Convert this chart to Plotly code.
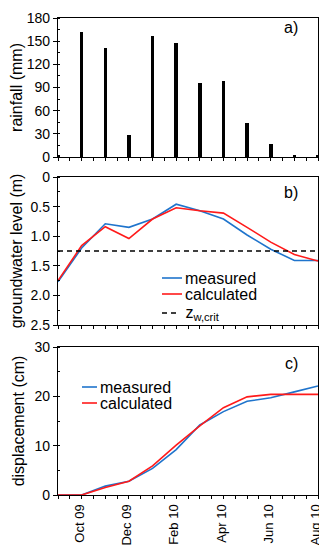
import plotly.graph_objects as go

# month index: 0 = Sep 09 ... 11 = Aug 10
months = [0, 1, 2, 3, 4, 5, 6, 7, 8, 9, 10, 11]
rain_mm = [2, 162, 141, 29, 157, 147, 96, 98, 44, 17, 2, 2]
gw_measured = [1.77, 1.20, 0.79, 0.85, 0.71, 0.46, 0.57, 0.71, 0.98, 1.22, 1.41, 1.41]
gw_calculated = [1.75, 1.16, 0.84, 1.04, 0.71, 0.52, 0.57, 0.61, 0.85, 1.10, 1.31, 1.42]
z_crit = 1.25
disp_measured = [0, 0, 1.8, 2.8, 5.4, 9.2, 14.2, 16.9, 19.0, 19.7, 20.9, 22.1]
disp_calculated = [0, 0, 1.5, 2.8, 5.9, 10.1, 14.0, 17.7, 19.9, 20.4, 20.4, 20.4]
tick_pos = [1, 3, 5, 7, 9, 11]
tick_labels = ["Oct 09", "Dec 09", "Feb 10", "Apr 10", "Jun 10", "Aug 10"]

BLUE = "#1f74cc"
RED = "#ff1a1a"
FONT = "Liberation Sans, Arial, sans-serif"

fig = go.Figure()

fig.add_trace(go.Bar(x=months, y=rain_mm, marker=dict(color="black", line_width=0),
                     width=0.15, xaxis="x", yaxis="y", showlegend=False))

fig.add_trace(go.Scatter(x=months, y=gw_measured, mode="lines", name="measured",
                         line=dict(color=BLUE, width=1.6), xaxis="x2", yaxis="y2"))
fig.add_trace(go.Scatter(x=months, y=gw_calculated, mode="lines", name="calculated",
                         line=dict(color=RED, width=1.6), xaxis="x2", yaxis="y2"))
fig.add_trace(go.Scatter(x=[months[0], months[-1]], y=[z_crit, z_crit], mode="lines",
                         name="z<sub>w,crit</sub>",
                         line=dict(color="black", width=1.4, dash="5px,4px"), xaxis="x2", yaxis="y2"))

fig.add_trace(go.Scatter(x=months, y=disp_measured, mode="lines", name="measured",
                         line=dict(color=BLUE, width=1.6), xaxis="x3", yaxis="y3"))
fig.add_trace(go.Scatter(x=months, y=disp_calculated, mode="lines", name="calculated",
                         line=dict(color=RED, width=1.6), xaxis="x3", yaxis="y3"))

xcommon = dict(range=[0, 11], showline=True, linecolor="black", linewidth=1.3, mirror=True,
               ticks="outside", ticklen=3, tickcolor="black", tickmode="array", tickvals=tick_pos,
               minor=dict(ticks="outside", ticklen=3, dtick=0.5, tick0=0, tickcolor="black"),
               showgrid=False, zeroline=False, tickfont=dict(size=13, color="black", family=FONT))
ycommon = dict(showline=True, linecolor="black", linewidth=1.3, mirror=True,
               ticks="outside", ticklen=4, tickcolor="black", showgrid=False, zeroline=False,
               tickfont=dict(size=14, color="black", family=FONT),
               title_font=dict(size=16, color="black", family=FONT))

fs = dict(size=16, color="black", family=FONT)

# the page body adds an 8px offset; positions below are in the visible picture's pixels
PLOT_TOP, PLOT_BOTTOM, PLOT_LEFT, PLOT_RIGHT = 18, 495, 58, 318


def px_x(px):
    return (px - PLOT_LEFT) / float(PLOT_RIGHT - PLOT_LEFT)


def px_y(py):
    return (PLOT_BOTTOM - py) / float(PLOT_BOTTOM - PLOT_TOP)


annotations = [
    dict(text="a)", x=px_x(291), y=px_y(27), xref="paper", yref="paper", showarrow=False,
         font=fs, xanchor="center", yanchor="middle"),
    dict(text="b)", x=px_x(291), y=px_y(193), xref="paper", yref="paper", showarrow=False,
         font=fs, xanchor="center", yanchor="middle"),
    dict(text="c)", x=px_x(291), y=px_y(363), xref="paper", yref="paper", showarrow=False,
         font=fs, xanchor="center", yanchor="middle"),
]
shapes = []


def legend_item(x0, x1, ty, text, color, dash="solid"):
    shapes.append(dict(type="line", xref="paper", yref="paper", x0=px_x(x0), x1=px_x(x1),
                       y0=px_y(ty), y1=px_y(ty), line=dict(color=color, width=1.6, dash=dash)))
    annotations.append(dict(text=text, x=px_x(x1 + 1), y=px_y(ty), xref="paper", yref="paper",
                            showarrow=False, font=fs, xanchor="left", yanchor="middle"))


legend_item(162, 182, 278, "measured", BLUE)
legend_item(162, 182, 294, "calculated", RED)
legend_item(162, 178, 313, " z<sub>w,crit</sub>", "black", "5px,4px")
legend_item(82, 97, 387, "measured", BLUE)
legend_item(82, 97, 403, "calculated", RED)

fig.update_layout(
    width=327, height=550,
    margin=dict(l=PLOT_LEFT - 8, r=327 - (PLOT_RIGHT - 8), t=PLOT_TOP - 8, b=550 - (PLOT_BOTTOM - 8),
                autoexpand=False),
    plot_bgcolor="white", paper_bgcolor="white",
    font=dict(family=FONT, color="black"),
    showlegend=False,
    xaxis=dict(xcommon, anchor="y", showticklabels=False),
    xaxis2=dict(xcommon, anchor="y2", showticklabels=False),
    xaxis3=dict(xcommon, anchor="y3", ticktext=tick_labels, tickangle=-90, ticklabelshift=-2),
    yaxis=dict(ycommon, domain=[px_y(157), 1.0], range=[0, 180], tickvals=[0, 30, 60, 90, 120, 150, 180],
               minor=dict(ticks="inside", ticklen=2, dtick=15, tickcolor="black"),
               title=dict(text="rainfall (mm)", standoff=5)),
    yaxis2=dict(ycommon, domain=[px_y(325), px_y(177)], range=[2.5, 0],
                tickvals=[0, 0.5, 1.0, 1.5, 2.0, 2.5], ticktext=["0", "0.5", "1.0", "1.5", "2.0", "2.5"],
                minor=dict(ticks="inside", ticklen=2, dtick=0.25, tickcolor="black"),
                title=dict(text="groundwater level (m)", standoff=5)),
    yaxis3=dict(ycommon, domain=[0.0, px_y(347)], range=[0, 30], tickvals=[0, 10, 20, 30],
                minor=dict(ticks="inside", ticklen=2, dtick=5, tickcolor="black"),
                title=dict(text="displacement (cm)", standoff=5)),
    bargap=0,
    annotations=annotations,
    shapes=shapes,
)

fig.write_html("out.html")
